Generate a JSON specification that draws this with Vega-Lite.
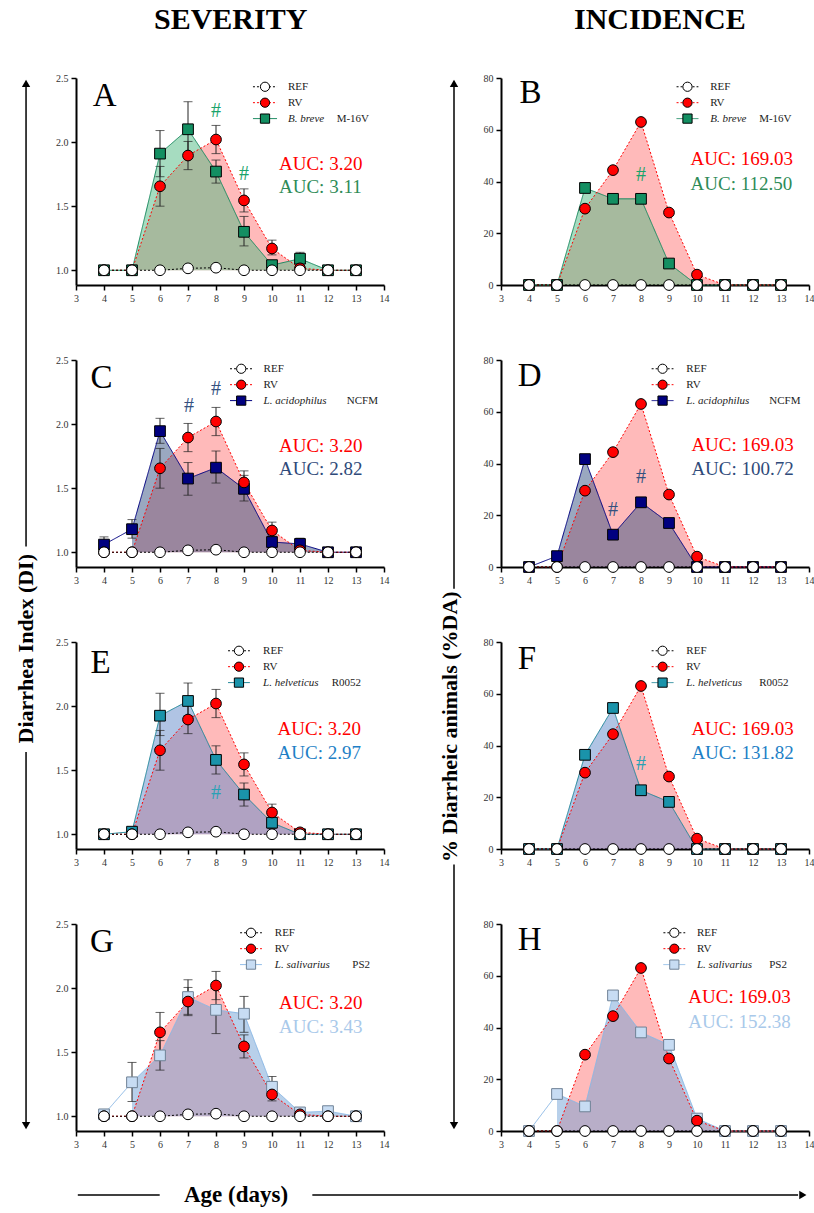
{
"$schema":"https://vega.github.io/schema/vega-lite/v6.json",
"background":"white",
"padding":{"left":15,"top":5,"right":0,"bottom":0},
"config":{"view":{"stroke":null},"axis":{"domainColor":"#000000","domainWidth":2,"tickColor":"#000000","tickWidth":1.5,"tickSize":5,"labelFont":"Liberation Serif","labelFontSize":10,"labelColor":"#333333","labelPadding":3,"labelOverlap":false,"grid":false},"text":{"font":"Liberation Serif"}},
"datasets":{
"m":[
{"p":"A","s":"B. breve M-16V","d":4,"v":1},
{"p":"A","s":"B. breve M-16V","d":5,"v":1},
{"p":"A","s":"B. breve M-16V","d":6,"v":1.91,"lo":1.73,"hi":2.09},
{"p":"A","s":"B. breve M-16V","d":7,"v":2.1,"lo":1.9,"hi":2.315},
{"p":"A","s":"B. breve M-16V","d":8,"v":1.77,"lo":1.68,"hi":1.86},
{"p":"A","s":"B. breve M-16V","d":9,"v":1.3,"lo":1.19,"hi":1.42},
{"p":"A","s":"B. breve M-16V","d":10,"v":1.04},
{"p":"A","s":"B. breve M-16V","d":11,"v":1.09,"lo":1.05,"hi":1.14},
{"p":"A","s":"B. breve M-16V","d":12,"v":1},
{"p":"A","s":"B. breve M-16V","d":13,"v":1},
{"p":"C","s":"L. acidophilus NCFM","d":4,"v":1.06,"lo":1.0,"hi":1.12},
{"p":"C","s":"L. acidophilus NCFM","d":5,"v":1.18,"lo":1.11,"hi":1.255},
{"p":"C","s":"L. acidophilus NCFM","d":6,"v":1.945,"lo":1.85,"hi":2.045},
{"p":"C","s":"L. acidophilus NCFM","d":7,"v":1.575,"lo":1.445,"hi":1.7},
{"p":"C","s":"L. acidophilus NCFM","d":8,"v":1.66,"lo":1.54,"hi":1.79},
{"p":"C","s":"L. acidophilus NCFM","d":9,"v":1.495,"lo":1.4,"hi":1.6},
{"p":"C","s":"L. acidophilus NCFM","d":10,"v":1.08,"lo":1.035,"hi":1.135},
{"p":"C","s":"L. acidophilus NCFM","d":11,"v":1.065,"lo":1.03,"hi":1.11},
{"p":"C","s":"L. acidophilus NCFM","d":12,"v":1},
{"p":"C","s":"L. acidophilus NCFM","d":13,"v":1},
{"p":"E","s":"L. helveticus R0052","d":4,"v":1},
{"p":"E","s":"L. helveticus R0052","d":5,"v":1.02},
{"p":"E","s":"L. helveticus R0052","d":6,"v":1.925,"lo":1.77,"hi":2.1},
{"p":"E","s":"L. helveticus R0052","d":7,"v":2.04,"lo":1.925,"hi":2.18},
{"p":"E","s":"L. helveticus R0052","d":8,"v":1.58,"lo":1.47,"hi":1.69},
{"p":"E","s":"L. helveticus R0052","d":9,"v":1.31,"lo":1.22,"hi":1.4},
{"p":"E","s":"L. helveticus R0052","d":10,"v":1.09,"lo":1.045,"hi":1.125},
{"p":"E","s":"L. helveticus R0052","d":11,"v":1},
{"p":"E","s":"L. helveticus R0052","d":12,"v":1},
{"p":"E","s":"L. helveticus R0052","d":13,"v":1},
{"p":"G","s":"L. salivarius PS2","d":4,"v":1.015},
{"p":"G","s":"L. salivarius PS2","d":5,"v":1.265,"lo":1.115,"hi":1.42},
{"p":"G","s":"L. salivarius PS2","d":6,"v":1.475,"lo":1.36,"hi":1.59},
{"p":"G","s":"L. salivarius PS2","d":7,"v":1.93,"lo":1.795,"hi":2.065},
{"p":"G","s":"L. salivarius PS2","d":8,"v":1.83,"lo":1.645,"hi":2.0},
{"p":"G","s":"L. salivarius PS2","d":9,"v":1.8,"lo":1.655,"hi":1.935},
{"p":"G","s":"L. salivarius PS2","d":10,"v":1.23,"lo":1.175,"hi":1.31},
{"p":"G","s":"L. salivarius PS2","d":11,"v":1.03},
{"p":"G","s":"L. salivarius PS2","d":12,"v":1.04},
{"p":"G","s":"L. salivarius PS2","d":13,"v":1},
{"p":"B","s":"B. breve M-16V","d":4,"v":0},
{"p":"B","s":"B. breve M-16V","d":5,"v":0},
{"p":"B","s":"B. breve M-16V","d":6,"v":37.5},
{"p":"B","s":"B. breve M-16V","d":7,"v":33.3},
{"p":"B","s":"B. breve M-16V","d":8,"v":33.3},
{"p":"B","s":"B. breve M-16V","d":9,"v":8.3},
{"p":"B","s":"B. breve M-16V","d":10,"v":0},
{"p":"B","s":"B. breve M-16V","d":11,"v":0},
{"p":"B","s":"B. breve M-16V","d":12,"v":0},
{"p":"B","s":"B. breve M-16V","d":13,"v":0},
{"p":"D","s":"L. acidophilus NCFM","d":4,"v":0},
{"p":"D","s":"L. acidophilus NCFM","d":5,"v":4.2},
{"p":"D","s":"L. acidophilus NCFM","d":6,"v":41.7},
{"p":"D","s":"L. acidophilus NCFM","d":7,"v":12.5},
{"p":"D","s":"L. acidophilus NCFM","d":8,"v":25},
{"p":"D","s":"L. acidophilus NCFM","d":9,"v":17},
{"p":"D","s":"L. acidophilus NCFM","d":10,"v":0},
{"p":"D","s":"L. acidophilus NCFM","d":11,"v":0},
{"p":"D","s":"L. acidophilus NCFM","d":12,"v":0},
{"p":"D","s":"L. acidophilus NCFM","d":13,"v":0},
{"p":"F","s":"L. helveticus R0052","d":4,"v":0},
{"p":"F","s":"L. helveticus R0052","d":5,"v":0},
{"p":"F","s":"L. helveticus R0052","d":6,"v":36.4},
{"p":"F","s":"L. helveticus R0052","d":7,"v":54.5},
{"p":"F","s":"L. helveticus R0052","d":8,"v":22.7},
{"p":"F","s":"L. helveticus R0052","d":9,"v":18.2},
{"p":"F","s":"L. helveticus R0052","d":10,"v":0},
{"p":"F","s":"L. helveticus R0052","d":11,"v":0},
{"p":"F","s":"L. helveticus R0052","d":12,"v":0},
{"p":"F","s":"L. helveticus R0052","d":13,"v":0},
{"p":"H","s":"L. salivarius PS2","d":4,"v":0},
{"p":"H","s":"L. salivarius PS2","d":5,"v":14.3},
{"p":"H","s":"L. salivarius PS2","d":6,"v":9.5},
{"p":"H","s":"L. salivarius PS2","d":7,"v":52.4},
{"p":"H","s":"L. salivarius PS2","d":8,"v":38.1},
{"p":"H","s":"L. salivarius PS2","d":9,"v":33.3},
{"p":"H","s":"L. salivarius PS2","d":10,"v":4.8},
{"p":"H","s":"L. salivarius PS2","d":11,"v":0},
{"p":"H","s":"L. salivarius PS2","d":12,"v":0},
{"p":"H","s":"L. salivarius PS2","d":13,"v":0},
{"p":"L","s":"RV","d":4,"v":1},
{"p":"L","s":"RV","d":5,"v":1},
{"p":"L","s":"RV","d":6,"v":1.655,"lo":1.5,"hi":1.81},
{"p":"L","s":"RV","d":7,"v":1.895,"lo":1.785,"hi":2.005},
{"p":"L","s":"RV","d":8,"v":2.02,"lo":1.91,"hi":2.13},
{"p":"L","s":"RV","d":9,"v":1.545,"lo":1.455,"hi":1.635},
{"p":"L","s":"RV","d":10,"v":1.17,"lo":1.12,"hi":1.235},
{"p":"L","s":"RV","d":11,"v":1.015},
{"p":"L","s":"RV","d":12,"v":1},
{"p":"L","s":"RV","d":13,"v":1},
{"p":"L","s":"REF","d":4,"v":1},
{"p":"L","s":"REF","d":5,"v":1},
{"p":"L","s":"REF","d":6,"v":1},
{"p":"L","s":"REF","d":7,"v":1.015},
{"p":"L","s":"REF","d":8,"v":1.02},
{"p":"L","s":"REF","d":9,"v":1},
{"p":"L","s":"REF","d":10,"v":1},
{"p":"L","s":"REF","d":11,"v":1},
{"p":"L","s":"REF","d":12,"v":1},
{"p":"L","s":"REF","d":13,"v":1},
{"p":"R","s":"RV","d":4,"v":0},
{"p":"R","s":"RV","d":5,"v":0},
{"p":"R","s":"RV","d":6,"v":29.5},
{"p":"R","s":"RV","d":7,"v":44.4},
{"p":"R","s":"RV","d":8,"v":63},
{"p":"R","s":"RV","d":9,"v":28},
{"p":"R","s":"RV","d":10,"v":4},
{"p":"R","s":"RV","d":11,"v":0},
{"p":"R","s":"RV","d":12,"v":0},
{"p":"R","s":"RV","d":13,"v":0},
{"p":"R","s":"REF","d":4,"v":0},
{"p":"R","s":"REF","d":5,"v":0},
{"p":"R","s":"REF","d":6,"v":0},
{"p":"R","s":"REF","d":7,"v":0},
{"p":"R","s":"REF","d":8,"v":0},
{"p":"R","s":"REF","d":9,"v":0},
{"p":"R","s":"REF","d":10,"v":0},
{"p":"R","s":"REF","d":11,"v":0},
{"p":"R","s":"REF","d":12,"v":0},
{"p":"R","s":"REF","d":13,"v":0}
],
"lg":[
{"p":"L","s":"REF","r":1,"t":"REF"},
{"p":"L","s":"RV","r":2,"t":"RV"},
{"p":"R","s":"REF","r":1,"t":"REF"},
{"p":"R","s":"RV","r":2,"t":"RV"},
{"p":"A","s":"B. breve M-16V","r":3,"t":"B. breve","st":"M-16V"},
{"p":"B","s":"B. breve M-16V","r":3,"t":"B. breve","st":"M-16V"},
{"p":"C","s":"L. acidophilus NCFM","r":3,"t":"L. acidophilus","st":"NCFM"},
{"p":"D","s":"L. acidophilus NCFM","r":3,"t":"L. acidophilus","st":"NCFM"},
{"p":"E","s":"L. helveticus R0052","r":3,"t":"L. helveticus","st":"R0052"},
{"p":"F","s":"L. helveticus R0052","r":3,"t":"L. helveticus","st":"R0052"},
{"p":"G","s":"L. salivarius PS2","r":3,"t":"L. salivarius","st":"PS2"},
{"p":"H","s":"L. salivarius PS2","r":3,"t":"L. salivarius","st":"PS2"}
]
},
"spacing":31,
"vconcat":[
{"spacing":17,"hconcat":[
{"width":23,"height":1053,"data":{"values":[{}]},
 "encoding":{"x":{"datum":0.48,"type":"quantitative","scale":{"domain":[0,1]},"axis":null}},
 "layer":[
  {"mark":{"type":"rule","strokeWidth":1.5,"color":"#000000"},"encoding":{"y":{"datum":0.006,"type":"quantitative","scale":{"domain":[0,1],"reverse":true},"axis":null},"y2":{"datum":0.445}}},
  {"mark":{"type":"rule","strokeWidth":1.5,"color":"#000000"},"encoding":{"y":{"datum":0.64,"type":"quantitative","scale":{"domain":[0,1],"reverse":true},"axis":null},"y2":{"datum":0.994}}},
  {"mark":{"type":"point","shape":"triangle-up","filled":true,"color":"#000000","opacity":1,"size":70},"encoding":{"y":{"datum":0.005,"type":"quantitative","scale":{"domain":[0,1],"reverse":true},"axis":null}}},
  {"mark":{"type":"point","shape":"triangle-down","filled":true,"color":"#000000","opacity":1,"size":70},"encoding":{"y":{"datum":0.995,"type":"quantitative","scale":{"domain":[0,1],"reverse":true},"axis":null}}},
  {"mark":{"type":"text","text":"Diarrhea Index (DI)","angle":270,"fontWeight":"bold","fontSize":22,"align":"center","baseline":"middle","color":"#000000"},"encoding":{"y":{"datum":0.542,"type":"quantitative","scale":{"domain":[0,1],"reverse":true},"axis":null}}}
 ]},
{"title":{"text":"SEVERITY","font":"Liberation Serif","fontSize":30,"fontWeight":"bold","anchor":"start","frame":"group","dx":78,"offset":38,"color":"#000000"},
 "spacing":75,"bounds":"flush",
 "vconcat":[
 {"width":308,"height":207,"resolve":{"scale":{"y":"independent"}},"layer":[
  {"data":{"name":"m"},"encoding":{"x":{"field":"d","type":"quantitative","scale":{"domain":[3,14],"nice":false,"zero":false},"axis":{"values":[3,4,5,6,7,8,9,10,11,12,13,14],"format":"d","title":null,"labelFlush":false,"labelOverlap":false}},"y":{"field":"v","type":"quantitative","scale":{"domain":[0.885,2.5],"nice":false,"zero":false},"axis":{"values":[1,1.5,2,2.5],"format":".1f","title":null,"labelOverlap":false}}},
   "layer":[
   {"transform":[{"filter":"datum.p=='L'&&datum.s=='RV'&&datum.d>=5"}],"mark":{"type":"area","color":"#ff0000","opacity":0.27},"encoding":{"y2":{"datum":1}}},
   {"transform":[{"filter":"datum.p=='A'&&datum.d>=5"}],"mark":{"type":"area","color":"#4db981","opacity":0.5},"encoding":{"y2":{"datum":1}}},
   {"transform":[{"filter":"(datum.p=='A'||datum.p=='L')&&isValid(datum.lo)"}],"mark":{"type":"errorbar","ticks":{"size":9},"color":"#222222"},"encoding":{"y":{"field":"lo","type":"quantitative","title":null},"y2":{"field":"hi"}}},
   {"transform":[{"filter":"datum.p=='A'||datum.p=='L'"}],"mark":{"type":"line","strokeWidth":1},"encoding":{"color":{"field":"s","type":"nominal","scale":{"domain":["REF","RV","B. breve M-16V","L. acidophilus NCFM","L. helveticus R0052","L. salivarius PS2"],"range":["#000000","#ff0000","#1a8a60","#000080","#1f8699","#8ab8e6"]},"legend":null},"strokeDash":{"field":"s","type":"nominal","scale":{"domain":["REF","RV","B. breve M-16V","L. acidophilus NCFM","L. helveticus R0052","L. salivarius PS2"],"range":[[2,2],[2,2],[1,0],[1,0],[1,0],[1,0]]},"legend":null}}},
   {"transform":[{"filter":"datum.p=='A'||datum.p=='L'"}],"mark":{"type":"point","filled":true,"opacity":1,"size":115,"strokeWidth":1},"encoding":{"shape":{"field":"s","type":"nominal","scale":{"domain":["REF","RV","B. breve M-16V","L. acidophilus NCFM","L. helveticus R0052","L. salivarius PS2"],"range":["circle","circle","square","square","square","square"]},"legend":null},"fill":{"field":"s","type":"nominal","scale":{"domain":["REF","RV","B. breve M-16V","L. acidophilus NCFM","L. helveticus R0052","L. salivarius PS2"],"range":["#ffffff","#ff0000","#138f62","#000080","#1a93aa","#c7dcf3"]},"legend":null},"stroke":{"condition":{"test":"datum.s=='L. salivarius PS2'","value":"#6f8296"},"value":"#000000"}}},
   {"transform":[{"filter":"datum.p=='L'&&datum.s=='REF'&&datum.d==4"}],"mark":{"type":"text","text":"A","fontSize":33,"align":"left","baseline":"alphabetic","color":"#000000"},"encoding":{"x":{"datum":3.6,"axis":{"values":[3,4,5,6,7,8,9,10,11,12,13,14],"format":"d","title":null,"labelFlush":false,"labelOverlap":false}},"y":{"datum":2.28}}},
   {"transform":[{"filter":"datum.p=='L'&&datum.s=='REF'&&datum.d==4"}],"mark":{"type":"text","text":"AUC: 3.20","fontSize":19,"align":"left","baseline":"middle","color":"#ff0000"},"encoding":{"x":{"datum":10.25,"axis":{"values":[3,4,5,6,7,8,9,10,11,12,13,14],"format":"d","title":null,"labelFlush":false,"labelOverlap":false}},"y":{"datum":1.83}}},
   {"transform":[{"filter":"datum.p=='L'&&datum.s=='REF'&&datum.d==4"}],"mark":{"type":"text","text":"AUC: 3.11","fontSize":19,"align":"left","baseline":"middle","color":"#2e8b57"},"encoding":{"x":{"datum":10.25,"axis":{"values":[3,4,5,6,7,8,9,10,11,12,13,14],"format":"d","title":null,"labelFlush":false,"labelOverlap":false}},"y":{"datum":1.65}}},
   {"transform":[{"filter":"datum.p=='L'&&datum.s=='REF'&&datum.d==4"}],"mark":{"type":"text","text":"#","fontSize":20,"baseline":"middle","color":"#1aa36b"},"encoding":{"x":{"datum":8,"axis":{"values":[3,4,5,6,7,8,9,10,11,12,13,14],"format":"d","title":null,"labelFlush":false,"labelOverlap":false}},"y":{"datum":2.24}}},
   {"transform":[{"filter":"datum.p=='L'&&datum.s=='REF'&&datum.d==4"}],"mark":{"type":"text","text":"#","fontSize":20,"baseline":"middle","color":"#1aa36b"},"encoding":{"x":{"datum":9,"axis":{"values":[3,4,5,6,7,8,9,10,11,12,13,14],"format":"d","title":null,"labelFlush":false,"labelOverlap":false}},"y":{"datum":1.75}}}
  ]},
  {"data":{"name":"lg"},"transform":[{"filter":"datum.p=='A'||datum.p=='L'"}],"encoding":{"y":{"field":"r","type":"quantitative","scale":{"domain":[0.45,13.45],"reverse":true,"nice":false,"zero":false},"axis":null}},"layer":[
   {"mark":{"type":"rule","strokeWidth":1},"encoding":{"x":{"datum":9.32,"axis":{"values":[3,4,5,6,7,8,9,10,11,12,13,14],"format":"d","title":null,"labelFlush":false,"labelOverlap":false}},"x2":{"datum":10.18},"color":{"field":"s","type":"nominal","legend":null},"strokeDash":{"field":"s","type":"nominal","legend":null}}},
   {"mark":{"type":"point","filled":true,"opacity":1,"size":85,"strokeWidth":1},"encoding":{"x":{"datum":9.75,"axis":{"values":[3,4,5,6,7,8,9,10,11,12,13,14],"format":"d","title":null,"labelFlush":false,"labelOverlap":false}},"shape":{"field":"s","type":"nominal","legend":null},"fill":{"field":"s","type":"nominal","legend":null},"stroke":{"condition":{"test":"datum.s=='L. salivarius PS2'","value":"#6f8296"},"value":"#000000"}}},
   {"transform":[{"filter":"datum.r<3"}],"mark":{"type":"text","align":"left","baseline":"middle","fontSize":11,"color":"#222222"},"encoding":{"x":{"datum":10.57,"axis":{"values":[3,4,5,6,7,8,9,10,11,12,13,14],"format":"d","title":null,"labelFlush":false,"labelOverlap":false}},"text":{"field":"t"}}},
   {"transform":[{"filter":"datum.r==3"}],"mark":{"type":"text","align":"left","baseline":"middle","fontSize":11,"fontStyle":"italic","color":"#222222"},"encoding":{"x":{"datum":10.57,"axis":{"values":[3,4,5,6,7,8,9,10,11,12,13,14],"format":"d","title":null,"labelFlush":false,"labelOverlap":false}},"text":{"field":"t"}}},
   {"transform":[{"filter":"datum.r==3"}],"mark":{"type":"text","align":"left","baseline":"middle","fontSize":11,"color":"#222222"},"encoding":{"x":{"datum":12.31,"axis":{"values":[3,4,5,6,7,8,9,10,11,12,13,14],"format":"d","title":null,"labelFlush":false,"labelOverlap":false}},"text":{"field":"st"}}}
  ]}
 ]},
 {"width":308,"height":207,"resolve":{"scale":{"y":"independent"}},"layer":[
  {"data":{"name":"m"},"encoding":{"x":{"field":"d","type":"quantitative","scale":{"domain":[3,14],"nice":false,"zero":false},"axis":{"values":[3,4,5,6,7,8,9,10,11,12,13,14],"format":"d","title":null,"labelFlush":false,"labelOverlap":false}},"y":{"field":"v","type":"quantitative","scale":{"domain":[0.885,2.5],"nice":false,"zero":false},"axis":{"values":[1,1.5,2,2.5],"format":".1f","title":null,"labelOverlap":false}}},
   "layer":[
   {"transform":[{"filter":"datum.p=='L'&&datum.s=='RV'&&datum.d>=5"}],"mark":{"type":"area","color":"#ff0000","opacity":0.27},"encoding":{"y2":{"datum":1}}},
   {"transform":[{"filter":"datum.p=='C'&&datum.d>=5"}],"mark":{"type":"area","color":"#355181","opacity":0.5},"encoding":{"y2":{"datum":1}}},
   {"transform":[{"filter":"(datum.p=='C'||datum.p=='L')&&isValid(datum.lo)"}],"mark":{"type":"errorbar","ticks":{"size":9},"color":"#222222"},"encoding":{"y":{"field":"lo","type":"quantitative","title":null},"y2":{"field":"hi"}}},
   {"transform":[{"filter":"datum.p=='C'||datum.p=='L'"}],"mark":{"type":"line","strokeWidth":1},"encoding":{"color":{"field":"s","type":"nominal","legend":null},"strokeDash":{"field":"s","type":"nominal","legend":null}}},
   {"transform":[{"filter":"datum.p=='C'||datum.p=='L'"}],"mark":{"type":"point","filled":true,"opacity":1,"size":115,"strokeWidth":1},"encoding":{"shape":{"field":"s","type":"nominal","legend":null},"fill":{"field":"s","type":"nominal","legend":null},"stroke":{"condition":{"test":"datum.s=='L. salivarius PS2'","value":"#6f8296"},"value":"#000000"}}},
   {"transform":[{"filter":"datum.p=='L'&&datum.s=='REF'&&datum.d==4"}],"mark":{"type":"text","text":"C","fontSize":33,"align":"left","baseline":"alphabetic","color":"#000000"},"encoding":{"x":{"datum":3.52,"axis":{"values":[3,4,5,6,7,8,9,10,11,12,13,14],"format":"d","title":null,"labelFlush":false,"labelOverlap":false}},"y":{"datum":2.28}}},
   {"transform":[{"filter":"datum.p=='L'&&datum.s=='REF'&&datum.d==4"}],"mark":{"type":"text","text":"AUC: 3.20","fontSize":19,"align":"left","baseline":"middle","color":"#ff0000"},"encoding":{"x":{"datum":10.25,"axis":{"values":[3,4,5,6,7,8,9,10,11,12,13,14],"format":"d","title":null,"labelFlush":false,"labelOverlap":false}},"y":{"datum":1.83}}},
   {"transform":[{"filter":"datum.p=='L'&&datum.s=='REF'&&datum.d==4"}],"mark":{"type":"text","text":"AUC: 2.82","fontSize":19,"align":"left","baseline":"middle","color":"#2f4a7a"},"encoding":{"x":{"datum":10.25,"axis":{"values":[3,4,5,6,7,8,9,10,11,12,13,14],"format":"d","title":null,"labelFlush":false,"labelOverlap":false}},"y":{"datum":1.65}}},
   {"transform":[{"filter":"datum.p=='L'&&datum.s=='REF'&&datum.d==4"}],"mark":{"type":"text","text":"#","fontSize":20,"baseline":"middle","color":"#34507f"},"encoding":{"x":{"datum":7.04,"axis":{"values":[3,4,5,6,7,8,9,10,11,12,13,14],"format":"d","title":null,"labelFlush":false,"labelOverlap":false}},"y":{"datum":2.14}}},
   {"transform":[{"filter":"datum.p=='L'&&datum.s=='REF'&&datum.d==4"}],"mark":{"type":"text","text":"#","fontSize":20,"baseline":"middle","color":"#34507f"},"encoding":{"x":{"datum":8,"axis":{"values":[3,4,5,6,7,8,9,10,11,12,13,14],"format":"d","title":null,"labelFlush":false,"labelOverlap":false}},"y":{"datum":2.27}}}
  ]},
  {"data":{"name":"lg"},"transform":[{"filter":"datum.p=='C'||datum.p=='L'"}],"encoding":{"y":{"field":"r","type":"quantitative","scale":{"domain":[0.45,13.45],"reverse":true,"nice":false,"zero":false},"axis":null}},"layer":[
   {"mark":{"type":"rule","strokeWidth":1},"encoding":{"x":{"datum":8.5,"axis":{"values":[3,4,5,6,7,8,9,10,11,12,13,14],"format":"d","title":null,"labelFlush":false,"labelOverlap":false}},"x2":{"datum":9.29},"color":{"field":"s","type":"nominal","legend":null},"strokeDash":{"field":"s","type":"nominal","legend":null}}},
   {"mark":{"type":"point","filled":true,"opacity":1,"size":85,"strokeWidth":1},"encoding":{"x":{"datum":8.9,"axis":{"values":[3,4,5,6,7,8,9,10,11,12,13,14],"format":"d","title":null,"labelFlush":false,"labelOverlap":false}},"shape":{"field":"s","type":"nominal","legend":null},"fill":{"field":"s","type":"nominal","legend":null},"stroke":{"condition":{"test":"datum.s=='L. salivarius PS2'","value":"#6f8296"},"value":"#000000"}}},
   {"transform":[{"filter":"datum.r<3"}],"mark":{"type":"text","align":"left","baseline":"middle","fontSize":11,"color":"#222222"},"encoding":{"x":{"datum":9.7,"axis":{"values":[3,4,5,6,7,8,9,10,11,12,13,14],"format":"d","title":null,"labelFlush":false,"labelOverlap":false}},"text":{"field":"t"}}},
   {"transform":[{"filter":"datum.r==3"}],"mark":{"type":"text","align":"left","baseline":"middle","fontSize":11,"fontStyle":"italic","color":"#222222"},"encoding":{"x":{"datum":9.7,"axis":{"values":[3,4,5,6,7,8,9,10,11,12,13,14],"format":"d","title":null,"labelFlush":false,"labelOverlap":false}},"text":{"field":"t"}}},
   {"transform":[{"filter":"datum.r==3"}],"mark":{"type":"text","align":"left","baseline":"middle","fontSize":11,"color":"#222222"},"encoding":{"x":{"datum":12.67,"axis":{"values":[3,4,5,6,7,8,9,10,11,12,13,14],"format":"d","title":null,"labelFlush":false,"labelOverlap":false}},"text":{"field":"st"}}}
  ]}
 ]},
 {"width":308,"height":207,"resolve":{"scale":{"y":"independent"}},"layer":[
  {"data":{"name":"m"},"encoding":{"x":{"field":"d","type":"quantitative","scale":{"domain":[3,14],"nice":false,"zero":false},"axis":{"values":[3,4,5,6,7,8,9,10,11,12,13,14],"format":"d","title":null,"labelFlush":false,"labelOverlap":false}},"y":{"field":"v","type":"quantitative","scale":{"domain":[0.885,2.5],"nice":false,"zero":false},"axis":{"values":[1,1.5,2,2.5],"format":".1f","title":null,"labelOverlap":false}}},
   "layer":[
   {"transform":[{"filter":"datum.p=='L'&&datum.s=='RV'&&datum.d>=5"}],"mark":{"type":"area","color":"#ff0000","opacity":0.27},"encoding":{"y2":{"datum":1}}},
   {"transform":[{"filter":"datum.p=='E'&&datum.d>=5"}],"mark":{"type":"area","color":"#6189c9","opacity":0.5},"encoding":{"y2":{"datum":1}}},
   {"transform":[{"filter":"(datum.p=='E'||datum.p=='L')&&isValid(datum.lo)"}],"mark":{"type":"errorbar","ticks":{"size":9},"color":"#222222"},"encoding":{"y":{"field":"lo","type":"quantitative","title":null},"y2":{"field":"hi"}}},
   {"transform":[{"filter":"datum.p=='E'||datum.p=='L'"}],"mark":{"type":"line","strokeWidth":1},"encoding":{"color":{"field":"s","type":"nominal","legend":null},"strokeDash":{"field":"s","type":"nominal","legend":null}}},
   {"transform":[{"filter":"datum.p=='E'||datum.p=='L'"}],"mark":{"type":"point","filled":true,"opacity":1,"size":115,"strokeWidth":1},"encoding":{"shape":{"field":"s","type":"nominal","legend":null},"fill":{"field":"s","type":"nominal","legend":null},"stroke":{"condition":{"test":"datum.s=='L. salivarius PS2'","value":"#6f8296"},"value":"#000000"}}},
   {"transform":[{"filter":"datum.p=='L'&&datum.s=='REF'&&datum.d==4"}],"mark":{"type":"text","text":"E","fontSize":33,"align":"left","baseline":"alphabetic","color":"#000000"},"encoding":{"x":{"datum":3.52,"axis":{"values":[3,4,5,6,7,8,9,10,11,12,13,14],"format":"d","title":null,"labelFlush":false,"labelOverlap":false}},"y":{"datum":2.26}}},
   {"transform":[{"filter":"datum.p=='L'&&datum.s=='REF'&&datum.d==4"}],"mark":{"type":"text","text":"AUC: 3.20","fontSize":19,"align":"left","baseline":"middle","color":"#ff0000"},"encoding":{"x":{"datum":10.2,"axis":{"values":[3,4,5,6,7,8,9,10,11,12,13,14],"format":"d","title":null,"labelFlush":false,"labelOverlap":false}},"y":{"datum":1.82}}},
   {"transform":[{"filter":"datum.p=='L'&&datum.s=='REF'&&datum.d==4"}],"mark":{"type":"text","text":"AUC: 2.97","fontSize":19,"align":"left","baseline":"middle","color":"#1e7fc6"},"encoding":{"x":{"datum":10.2,"axis":{"values":[3,4,5,6,7,8,9,10,11,12,13,14],"format":"d","title":null,"labelFlush":false,"labelOverlap":false}},"y":{"datum":1.635}}},
   {"transform":[{"filter":"datum.p=='L'&&datum.s=='REF'&&datum.d==4"}],"mark":{"type":"text","text":"#","fontSize":20,"baseline":"middle","color":"#2aa1b5"},"encoding":{"x":{"datum":8,"axis":{"values":[3,4,5,6,7,8,9,10,11,12,13,14],"format":"d","title":null,"labelFlush":false,"labelOverlap":false}},"y":{"datum":1.32}}}
  ]},
  {"data":{"name":"lg"},"transform":[{"filter":"datum.p=='E'||datum.p=='L'"}],"encoding":{"y":{"field":"r","type":"quantitative","scale":{"domain":[0.45,13.45],"reverse":true,"nice":false,"zero":false},"axis":null}},"layer":[
   {"mark":{"type":"rule","strokeWidth":1},"encoding":{"x":{"datum":8.43,"axis":{"values":[3,4,5,6,7,8,9,10,11,12,13,14],"format":"d","title":null,"labelFlush":false,"labelOverlap":false}},"x2":{"datum":9.21},"color":{"field":"s","type":"nominal","legend":null},"strokeDash":{"field":"s","type":"nominal","legend":null}}},
   {"mark":{"type":"point","filled":true,"opacity":1,"size":85,"strokeWidth":1},"encoding":{"x":{"datum":8.82,"axis":{"values":[3,4,5,6,7,8,9,10,11,12,13,14],"format":"d","title":null,"labelFlush":false,"labelOverlap":false}},"shape":{"field":"s","type":"nominal","legend":null},"fill":{"field":"s","type":"nominal","legend":null},"stroke":{"condition":{"test":"datum.s=='L. salivarius PS2'","value":"#6f8296"},"value":"#000000"}}},
   {"transform":[{"filter":"datum.r<3"}],"mark":{"type":"text","align":"left","baseline":"middle","fontSize":11,"color":"#222222"},"encoding":{"x":{"datum":9.68,"axis":{"values":[3,4,5,6,7,8,9,10,11,12,13,14],"format":"d","title":null,"labelFlush":false,"labelOverlap":false}},"text":{"field":"t"}}},
   {"transform":[{"filter":"datum.r==3"}],"mark":{"type":"text","align":"left","baseline":"middle","fontSize":11,"fontStyle":"italic","color":"#222222"},"encoding":{"x":{"datum":9.68,"axis":{"values":[3,4,5,6,7,8,9,10,11,12,13,14],"format":"d","title":null,"labelFlush":false,"labelOverlap":false}},"text":{"field":"t"}}},
   {"transform":[{"filter":"datum.r==3"}],"mark":{"type":"text","align":"left","baseline":"middle","fontSize":11,"color":"#222222"},"encoding":{"x":{"datum":12.13,"axis":{"values":[3,4,5,6,7,8,9,10,11,12,13,14],"format":"d","title":null,"labelFlush":false,"labelOverlap":false}},"text":{"field":"st"}}}
  ]}
 ]},
 {"width":308,"height":207,"resolve":{"scale":{"y":"independent"}},"layer":[
  {"data":{"name":"m"},"encoding":{"x":{"field":"d","type":"quantitative","scale":{"domain":[3,14],"nice":false,"zero":false},"axis":{"values":[3,4,5,6,7,8,9,10,11,12,13,14],"format":"d","title":null,"labelFlush":false,"labelOverlap":false}},"y":{"field":"v","type":"quantitative","scale":{"domain":[0.885,2.5],"nice":false,"zero":false},"axis":{"values":[1,1.5,2,2.5],"format":".1f","title":null,"labelOverlap":false}}},
   "layer":[
   {"transform":[{"filter":"datum.p=='L'&&datum.s=='RV'&&datum.d>=5"}],"mark":{"type":"area","color":"#ff0000","opacity":0.27},"encoding":{"y2":{"datum":1}}},
   {"transform":[{"filter":"datum.p=='G'&&datum.d>=5"}],"mark":{"type":"area","color":"#71a1d5","opacity":0.5},"encoding":{"y2":{"datum":1}}},
   {"transform":[{"filter":"(datum.p=='G'||datum.p=='L')&&isValid(datum.lo)"}],"mark":{"type":"errorbar","ticks":{"size":9},"color":"#222222"},"encoding":{"y":{"field":"lo","type":"quantitative","title":null},"y2":{"field":"hi"}}},
   {"transform":[{"filter":"datum.p=='G'||datum.p=='L'"}],"mark":{"type":"line","strokeWidth":1},"encoding":{"color":{"field":"s","type":"nominal","legend":null},"strokeDash":{"field":"s","type":"nominal","legend":null}}},
   {"transform":[{"filter":"datum.p=='G'||datum.p=='L'"}],"mark":{"type":"point","filled":true,"opacity":1,"size":115,"strokeWidth":1},"encoding":{"shape":{"field":"s","type":"nominal","legend":null},"fill":{"field":"s","type":"nominal","legend":null},"stroke":{"condition":{"test":"datum.s=='L. salivarius PS2'","value":"#6f8296"},"value":"#000000"}}},
   {"transform":[{"filter":"datum.p=='L'&&datum.s=='REF'&&datum.d==4"}],"mark":{"type":"text","text":"G","fontSize":33,"align":"left","baseline":"alphabetic","color":"#000000"},"encoding":{"x":{"datum":3.5,"axis":{"values":[3,4,5,6,7,8,9,10,11,12,13,14],"format":"d","title":null,"labelFlush":false,"labelOverlap":false}},"y":{"datum":2.28}}},
   {"transform":[{"filter":"datum.p=='L'&&datum.s=='REF'&&datum.d==4"}],"mark":{"type":"text","text":"AUC: 3.20","fontSize":19,"align":"left","baseline":"middle","color":"#ff0000"},"encoding":{"x":{"datum":10.25,"axis":{"values":[3,4,5,6,7,8,9,10,11,12,13,14],"format":"d","title":null,"labelFlush":false,"labelOverlap":false}},"y":{"datum":1.88}}},
   {"transform":[{"filter":"datum.p=='L'&&datum.s=='REF'&&datum.d==4"}],"mark":{"type":"text","text":"AUC: 3.43","fontSize":19,"align":"left","baseline":"middle","color":"#a9c9ea"},"encoding":{"x":{"datum":10.25,"axis":{"values":[3,4,5,6,7,8,9,10,11,12,13,14],"format":"d","title":null,"labelFlush":false,"labelOverlap":false}},"y":{"datum":1.7}}}
  ]},
  {"data":{"name":"lg"},"transform":[{"filter":"datum.p=='G'||datum.p=='L'"}],"encoding":{"y":{"field":"r","type":"quantitative","scale":{"domain":[0.45,13.45],"reverse":true,"nice":false,"zero":false},"axis":null}},"layer":[
   {"mark":{"type":"rule","strokeWidth":1},"encoding":{"x":{"datum":8.86,"axis":{"values":[3,4,5,6,7,8,9,10,11,12,13,14],"format":"d","title":null,"labelFlush":false,"labelOverlap":false}},"x2":{"datum":9.64},"color":{"field":"s","type":"nominal","legend":null},"strokeDash":{"field":"s","type":"nominal","legend":null}}},
   {"mark":{"type":"point","filled":true,"opacity":1,"size":85,"strokeWidth":1},"encoding":{"x":{"datum":9.25,"axis":{"values":[3,4,5,6,7,8,9,10,11,12,13,14],"format":"d","title":null,"labelFlush":false,"labelOverlap":false}},"shape":{"field":"s","type":"nominal","legend":null},"fill":{"field":"s","type":"nominal","legend":null},"stroke":{"condition":{"test":"datum.s=='L. salivarius PS2'","value":"#6f8296"},"value":"#000000"}}},
   {"transform":[{"filter":"datum.r<3"}],"mark":{"type":"text","align":"left","baseline":"middle","fontSize":11,"color":"#222222"},"encoding":{"x":{"datum":10.1,"axis":{"values":[3,4,5,6,7,8,9,10,11,12,13,14],"format":"d","title":null,"labelFlush":false,"labelOverlap":false}},"text":{"field":"t"}}},
   {"transform":[{"filter":"datum.r==3"}],"mark":{"type":"text","align":"left","baseline":"middle","fontSize":11,"fontStyle":"italic","color":"#222222"},"encoding":{"x":{"datum":10.1,"axis":{"values":[3,4,5,6,7,8,9,10,11,12,13,14],"format":"d","title":null,"labelFlush":false,"labelOverlap":false}},"text":{"field":"t"}}},
   {"transform":[{"filter":"datum.r==3"}],"mark":{"type":"text","align":"left","baseline":"middle","fontSize":11,"color":"#222222"},"encoding":{"x":{"datum":12.87,"axis":{"values":[3,4,5,6,7,8,9,10,11,12,13,14],"format":"d","title":null,"labelFlush":false,"labelOverlap":false}},"text":{"field":"st"}}}
  ]}
 ]}
 ]},
{"width":60,"height":1053,"data":{"values":[{}]},
 "encoding":{"x":{"datum":0.8,"type":"quantitative","scale":{"domain":[0,1]},"axis":null}},
 "layer":[
  {"mark":{"type":"rule","strokeWidth":1.5,"color":"#000000"},"encoding":{"y":{"datum":0.006,"type":"quantitative","scale":{"domain":[0,1],"reverse":true},"axis":null},"y2":{"datum":0.485}}},
  {"mark":{"type":"rule","strokeWidth":1.5,"color":"#000000"},"encoding":{"y":{"datum":0.747,"type":"quantitative","scale":{"domain":[0,1],"reverse":true},"axis":null},"y2":{"datum":0.994}}},
  {"mark":{"type":"point","shape":"triangle-up","filled":true,"color":"#000000","opacity":1,"size":70},"encoding":{"y":{"datum":0.005,"type":"quantitative","scale":{"domain":[0,1],"reverse":true},"axis":null}}},
  {"mark":{"type":"point","shape":"triangle-down","filled":true,"color":"#000000","opacity":1,"size":70},"encoding":{"y":{"datum":0.995,"type":"quantitative","scale":{"domain":[0,1],"reverse":true},"axis":null}}},
  {"mark":{"type":"text","text":"% Diarrheic animals (%DA)","angle":270,"fontWeight":"bold","fontSize":22,"align":"center","baseline":"middle","color":"#000000"},"encoding":{"x":{"datum":0.733,"type":"quantitative","scale":{"domain":[0,1]},"axis":null},"y":{"datum":0.616,"type":"quantitative","scale":{"domain":[0,1],"reverse":true},"axis":null}}}
 ]},
{"title":{"text":"INCIDENCE","font":"Liberation Serif","fontSize":30,"fontWeight":"bold","anchor":"start","frame":"group","dx":73,"offset":38,"color":"#000000"},
 "spacing":75,"bounds":"flush",
 "vconcat":[
 {"width":308,"height":207,"resolve":{"scale":{"y":"independent"}},"layer":[
  {"data":{"name":"m"},"encoding":{"x":{"field":"d","type":"quantitative","scale":{"domain":[3,14],"nice":false,"zero":false},"axis":{"values":[3,4,5,6,7,8,9,10,11,12,13,14],"format":"d","title":null,"labelFlush":false,"labelOverlap":false}},"y":{"field":"v","type":"quantitative","scale":{"domain":[0,80],"nice":false},"axis":{"values":[0,20,40,60,80],"format":"d","title":null,"labelOverlap":false}}},
   "layer":[
   {"transform":[{"filter":"datum.p=='R'&&datum.s=='RV'&&datum.d>=5"}],"mark":{"type":"area","color":"#ff0000","opacity":0.27},"encoding":{"y2":{"datum":0}}},
   {"transform":[{"filter":"datum.p=='B'&&datum.d>=5"}],"mark":{"type":"area","color":"#4db981","opacity":0.5},"encoding":{"y2":{"datum":0}}},
   {"transform":[{"filter":"datum.p=='B'||datum.p=='R'"}],"mark":{"type":"line","strokeWidth":1},"encoding":{"color":{"field":"s","type":"nominal","legend":null},"strokeDash":{"field":"s","type":"nominal","legend":null}}},
   {"transform":[{"filter":"datum.p=='B'||datum.p=='R'"}],"mark":{"type":"point","filled":true,"opacity":1,"size":115,"strokeWidth":1},"encoding":{"shape":{"field":"s","type":"nominal","legend":null},"fill":{"field":"s","type":"nominal","legend":null},"stroke":{"condition":{"test":"datum.s=='L. salivarius PS2'","value":"#6f8296"},"value":"#000000"}}},
   {"transform":[{"filter":"datum.p=='R'&&datum.s=='REF'&&datum.d==4"}],"mark":{"type":"text","text":"B","fontSize":33,"align":"left","baseline":"alphabetic","color":"#000000"},"encoding":{"x":{"datum":3.66,"axis":{"values":[3,4,5,6,7,8,9,10,11,12,13,14],"format":"d","title":null,"labelFlush":false,"labelOverlap":false}},"y":{"datum":70.5}}},
   {"transform":[{"filter":"datum.p=='R'&&datum.s=='REF'&&datum.d==4"}],"mark":{"type":"text","text":"AUC: 169.03","fontSize":19,"align":"left","baseline":"middle","color":"#ff0000"},"encoding":{"x":{"datum":9.77,"axis":{"values":[3,4,5,6,7,8,9,10,11,12,13,14],"format":"d","title":null,"labelFlush":false,"labelOverlap":false}},"y":{"datum":48.6}}},
   {"transform":[{"filter":"datum.p=='R'&&datum.s=='REF'&&datum.d==4"}],"mark":{"type":"text","text":"AUC: 112.50","fontSize":19,"align":"left","baseline":"middle","color":"#2e8b57"},"encoding":{"x":{"datum":9.77,"axis":{"values":[3,4,5,6,7,8,9,10,11,12,13,14],"format":"d","title":null,"labelFlush":false,"labelOverlap":false}},"y":{"datum":39}}},
   {"transform":[{"filter":"datum.p=='R'&&datum.s=='REF'&&datum.d==4"}],"mark":{"type":"text","text":"#","fontSize":20,"baseline":"middle","color":"#1aa36b"},"encoding":{"x":{"datum":8,"axis":{"values":[3,4,5,6,7,8,9,10,11,12,13,14],"format":"d","title":null,"labelFlush":false,"labelOverlap":false}},"y":{"datum":42.5}}}
  ]},
  {"data":{"name":"lg"},"transform":[{"filter":"datum.p=='B'||datum.p=='R'"}],"encoding":{"y":{"field":"r","type":"quantitative","scale":{"domain":[0.45,13.45],"reverse":true,"nice":false,"zero":false},"axis":null}},"layer":[
   {"mark":{"type":"rule","strokeWidth":1},"encoding":{"x":{"datum":9.27,"axis":{"values":[3,4,5,6,7,8,9,10,11,12,13,14],"format":"d","title":null,"labelFlush":false,"labelOverlap":false}},"x2":{"datum":10.05},"color":{"field":"s","type":"nominal","legend":null},"strokeDash":{"field":"s","type":"nominal","legend":null}}},
   {"mark":{"type":"point","filled":true,"opacity":1,"size":85,"strokeWidth":1},"encoding":{"x":{"datum":9.66,"axis":{"values":[3,4,5,6,7,8,9,10,11,12,13,14],"format":"d","title":null,"labelFlush":false,"labelOverlap":false}},"shape":{"field":"s","type":"nominal","legend":null},"fill":{"field":"s","type":"nominal","legend":null},"stroke":{"condition":{"test":"datum.s=='L. salivarius PS2'","value":"#6f8296"},"value":"#000000"}}},
   {"transform":[{"filter":"datum.r<3"}],"mark":{"type":"text","align":"left","baseline":"middle","fontSize":11,"color":"#222222"},"encoding":{"x":{"datum":10.47,"axis":{"values":[3,4,5,6,7,8,9,10,11,12,13,14],"format":"d","title":null,"labelFlush":false,"labelOverlap":false}},"text":{"field":"t"}}},
   {"transform":[{"filter":"datum.r==3"}],"mark":{"type":"text","align":"left","baseline":"middle","fontSize":11,"fontStyle":"italic","color":"#222222"},"encoding":{"x":{"datum":10.47,"axis":{"values":[3,4,5,6,7,8,9,10,11,12,13,14],"format":"d","title":null,"labelFlush":false,"labelOverlap":false}},"text":{"field":"t"}}},
   {"transform":[{"filter":"datum.r==3"}],"mark":{"type":"text","align":"left","baseline":"middle","fontSize":11,"color":"#222222"},"encoding":{"x":{"datum":12.22,"axis":{"values":[3,4,5,6,7,8,9,10,11,12,13,14],"format":"d","title":null,"labelFlush":false,"labelOverlap":false}},"text":{"field":"st"}}}
  ]}
 ]},
 {"width":308,"height":207,"resolve":{"scale":{"y":"independent"}},"layer":[
  {"data":{"name":"m"},"encoding":{"x":{"field":"d","type":"quantitative","scale":{"domain":[3,14],"nice":false,"zero":false},"axis":{"values":[3,4,5,6,7,8,9,10,11,12,13,14],"format":"d","title":null,"labelFlush":false,"labelOverlap":false}},"y":{"field":"v","type":"quantitative","scale":{"domain":[0,80],"nice":false},"axis":{"values":[0,20,40,60,80],"format":"d","title":null,"labelOverlap":false}}},
   "layer":[
   {"transform":[{"filter":"datum.p=='R'&&datum.s=='RV'&&datum.d>=5"}],"mark":{"type":"area","color":"#ff0000","opacity":0.27},"encoding":{"y2":{"datum":0}}},
   {"transform":[{"filter":"datum.p=='D'&&datum.d>=5"}],"mark":{"type":"area","color":"#355181","opacity":0.5},"encoding":{"y2":{"datum":0}}},
   {"transform":[{"filter":"datum.p=='D'||datum.p=='R'"}],"mark":{"type":"line","strokeWidth":1},"encoding":{"color":{"field":"s","type":"nominal","legend":null},"strokeDash":{"field":"s","type":"nominal","legend":null}}},
   {"transform":[{"filter":"datum.p=='D'||datum.p=='R'"}],"mark":{"type":"point","filled":true,"opacity":1,"size":115,"strokeWidth":1},"encoding":{"shape":{"field":"s","type":"nominal","legend":null},"fill":{"field":"s","type":"nominal","legend":null},"stroke":{"condition":{"test":"datum.s=='L. salivarius PS2'","value":"#6f8296"},"value":"#000000"}}},
   {"transform":[{"filter":"datum.p=='R'&&datum.s=='REF'&&datum.d==4"}],"mark":{"type":"text","text":"D","fontSize":33,"align":"left","baseline":"alphabetic","color":"#000000"},"encoding":{"x":{"datum":3.6,"axis":{"values":[3,4,5,6,7,8,9,10,11,12,13,14],"format":"d","title":null,"labelFlush":false,"labelOverlap":false}},"y":{"datum":70}}},
   {"transform":[{"filter":"datum.p=='R'&&datum.s=='REF'&&datum.d==4"}],"mark":{"type":"text","text":"AUC: 169.03","fontSize":19,"align":"left","baseline":"middle","color":"#ff0000"},"encoding":{"x":{"datum":9.8,"axis":{"values":[3,4,5,6,7,8,9,10,11,12,13,14],"format":"d","title":null,"labelFlush":false,"labelOverlap":false}},"y":{"datum":47}}},
   {"transform":[{"filter":"datum.p=='R'&&datum.s=='REF'&&datum.d==4"}],"mark":{"type":"text","text":"AUC: 100.72","fontSize":19,"align":"left","baseline":"middle","color":"#2f4a7a"},"encoding":{"x":{"datum":9.8,"axis":{"values":[3,4,5,6,7,8,9,10,11,12,13,14],"format":"d","title":null,"labelFlush":false,"labelOverlap":false}},"y":{"datum":38}}},
   {"transform":[{"filter":"datum.p=='R'&&datum.s=='REF'&&datum.d==4"}],"mark":{"type":"text","text":"#","fontSize":20,"baseline":"middle","color":"#34507f"},"encoding":{"x":{"datum":7,"axis":{"values":[3,4,5,6,7,8,9,10,11,12,13,14],"format":"d","title":null,"labelFlush":false,"labelOverlap":false}},"y":{"datum":21.9}}},
   {"transform":[{"filter":"datum.p=='R'&&datum.s=='REF'&&datum.d==4"}],"mark":{"type":"text","text":"#","fontSize":20,"baseline":"middle","color":"#34507f"},"encoding":{"x":{"datum":8,"axis":{"values":[3,4,5,6,7,8,9,10,11,12,13,14],"format":"d","title":null,"labelFlush":false,"labelOverlap":false}},"y":{"datum":34.8}}}
  ]},
  {"data":{"name":"lg"},"transform":[{"filter":"datum.p=='D'||datum.p=='R'"}],"encoding":{"y":{"field":"r","type":"quantitative","scale":{"domain":[0.45,13.45],"reverse":true,"nice":false,"zero":false},"axis":null}},"layer":[
   {"mark":{"type":"rule","strokeWidth":1},"encoding":{"x":{"datum":8.38,"axis":{"values":[3,4,5,6,7,8,9,10,11,12,13,14],"format":"d","title":null,"labelFlush":false,"labelOverlap":false}},"x2":{"datum":9.16},"color":{"field":"s","type":"nominal","legend":null},"strokeDash":{"field":"s","type":"nominal","legend":null}}},
   {"mark":{"type":"point","filled":true,"opacity":1,"size":85,"strokeWidth":1},"encoding":{"x":{"datum":8.77,"axis":{"values":[3,4,5,6,7,8,9,10,11,12,13,14],"format":"d","title":null,"labelFlush":false,"labelOverlap":false}},"shape":{"field":"s","type":"nominal","legend":null},"fill":{"field":"s","type":"nominal","legend":null},"stroke":{"condition":{"test":"datum.s=='L. salivarius PS2'","value":"#6f8296"},"value":"#000000"}}},
   {"transform":[{"filter":"datum.r<3"}],"mark":{"type":"text","align":"left","baseline":"middle","fontSize":11,"color":"#222222"},"encoding":{"x":{"datum":9.62,"axis":{"values":[3,4,5,6,7,8,9,10,11,12,13,14],"format":"d","title":null,"labelFlush":false,"labelOverlap":false}},"text":{"field":"t"}}},
   {"transform":[{"filter":"datum.r==3"}],"mark":{"type":"text","align":"left","baseline":"middle","fontSize":11,"fontStyle":"italic","color":"#222222"},"encoding":{"x":{"datum":9.62,"axis":{"values":[3,4,5,6,7,8,9,10,11,12,13,14],"format":"d","title":null,"labelFlush":false,"labelOverlap":false}},"text":{"field":"t"}}},
   {"transform":[{"filter":"datum.r==3"}],"mark":{"type":"text","align":"left","baseline":"middle","fontSize":11,"color":"#222222"},"encoding":{"x":{"datum":12.58,"axis":{"values":[3,4,5,6,7,8,9,10,11,12,13,14],"format":"d","title":null,"labelFlush":false,"labelOverlap":false}},"text":{"field":"st"}}}
  ]}
 ]},
 {"width":308,"height":207,"resolve":{"scale":{"y":"independent"}},"layer":[
  {"data":{"name":"m"},"encoding":{"x":{"field":"d","type":"quantitative","scale":{"domain":[3,14],"nice":false,"zero":false},"axis":{"values":[3,4,5,6,7,8,9,10,11,12,13,14],"format":"d","title":null,"labelFlush":false,"labelOverlap":false}},"y":{"field":"v","type":"quantitative","scale":{"domain":[0,80],"nice":false},"axis":{"values":[0,20,40,60,80],"format":"d","title":null,"labelOverlap":false}}},
   "layer":[
   {"transform":[{"filter":"datum.p=='R'&&datum.s=='RV'&&datum.d>=5"}],"mark":{"type":"area","color":"#ff0000","opacity":0.27},"encoding":{"y2":{"datum":0}}},
   {"transform":[{"filter":"datum.p=='F'&&datum.d>=5"}],"mark":{"type":"area","color":"#6189c9","opacity":0.5},"encoding":{"y2":{"datum":0}}},
   {"transform":[{"filter":"datum.p=='F'||datum.p=='R'"}],"mark":{"type":"line","strokeWidth":1},"encoding":{"color":{"field":"s","type":"nominal","legend":null},"strokeDash":{"field":"s","type":"nominal","legend":null}}},
   {"transform":[{"filter":"datum.p=='F'||datum.p=='R'"}],"mark":{"type":"point","filled":true,"opacity":1,"size":115,"strokeWidth":1},"encoding":{"shape":{"field":"s","type":"nominal","legend":null},"fill":{"field":"s","type":"nominal","legend":null},"stroke":{"condition":{"test":"datum.s=='L. salivarius PS2'","value":"#6f8296"},"value":"#000000"}}},
   {"transform":[{"filter":"datum.p=='R'&&datum.s=='REF'&&datum.d==4"}],"mark":{"type":"text","text":"F","fontSize":33,"align":"left","baseline":"alphabetic","color":"#000000"},"encoding":{"x":{"datum":3.6,"axis":{"values":[3,4,5,6,7,8,9,10,11,12,13,14],"format":"d","title":null,"labelFlush":false,"labelOverlap":false}},"y":{"datum":69.5}}},
   {"transform":[{"filter":"datum.p=='R'&&datum.s=='REF'&&datum.d==4"}],"mark":{"type":"text","text":"AUC: 169.03","fontSize":19,"align":"left","baseline":"middle","color":"#ff0000"},"encoding":{"x":{"datum":9.8,"axis":{"values":[3,4,5,6,7,8,9,10,11,12,13,14],"format":"d","title":null,"labelFlush":false,"labelOverlap":false}},"y":{"datum":46.5}}},
   {"transform":[{"filter":"datum.p=='R'&&datum.s=='REF'&&datum.d==4"}],"mark":{"type":"text","text":"AUC: 131.82","fontSize":19,"align":"left","baseline":"middle","color":"#1e7fc6"},"encoding":{"x":{"datum":9.8,"axis":{"values":[3,4,5,6,7,8,9,10,11,12,13,14],"format":"d","title":null,"labelFlush":false,"labelOverlap":false}},"y":{"datum":37.2}}},
   {"transform":[{"filter":"datum.p=='R'&&datum.s=='REF'&&datum.d==4"}],"mark":{"type":"text","text":"#","fontSize":20,"baseline":"middle","color":"#2aa1b5"},"encoding":{"x":{"datum":8,"axis":{"values":[3,4,5,6,7,8,9,10,11,12,13,14],"format":"d","title":null,"labelFlush":false,"labelOverlap":false}},"y":{"datum":32.9}}}
  ]},
  {"data":{"name":"lg"},"transform":[{"filter":"datum.p=='F'||datum.p=='R'"}],"encoding":{"y":{"field":"r","type":"quantitative","scale":{"domain":[0.45,13.45],"reverse":true,"nice":false,"zero":false},"axis":null}},"layer":[
   {"mark":{"type":"rule","strokeWidth":1},"encoding":{"x":{"datum":8.38,"axis":{"values":[3,4,5,6,7,8,9,10,11,12,13,14],"format":"d","title":null,"labelFlush":false,"labelOverlap":false}},"x2":{"datum":9.16},"color":{"field":"s","type":"nominal","legend":null},"strokeDash":{"field":"s","type":"nominal","legend":null}}},
   {"mark":{"type":"point","filled":true,"opacity":1,"size":85,"strokeWidth":1},"encoding":{"x":{"datum":8.77,"axis":{"values":[3,4,5,6,7,8,9,10,11,12,13,14],"format":"d","title":null,"labelFlush":false,"labelOverlap":false}},"shape":{"field":"s","type":"nominal","legend":null},"fill":{"field":"s","type":"nominal","legend":null},"stroke":{"condition":{"test":"datum.s=='L. salivarius PS2'","value":"#6f8296"},"value":"#000000"}}},
   {"transform":[{"filter":"datum.r<3"}],"mark":{"type":"text","align":"left","baseline":"middle","fontSize":11,"color":"#222222"},"encoding":{"x":{"datum":9.62,"axis":{"values":[3,4,5,6,7,8,9,10,11,12,13,14],"format":"d","title":null,"labelFlush":false,"labelOverlap":false}},"text":{"field":"t"}}},
   {"transform":[{"filter":"datum.r==3"}],"mark":{"type":"text","align":"left","baseline":"middle","fontSize":11,"fontStyle":"italic","color":"#222222"},"encoding":{"x":{"datum":9.62,"axis":{"values":[3,4,5,6,7,8,9,10,11,12,13,14],"format":"d","title":null,"labelFlush":false,"labelOverlap":false}},"text":{"field":"t"}}},
   {"transform":[{"filter":"datum.r==3"}],"mark":{"type":"text","align":"left","baseline":"middle","fontSize":11,"color":"#222222"},"encoding":{"x":{"datum":12.22,"axis":{"values":[3,4,5,6,7,8,9,10,11,12,13,14],"format":"d","title":null,"labelFlush":false,"labelOverlap":false}},"text":{"field":"st"}}}
  ]}
 ]},
 {"width":308,"height":207,"resolve":{"scale":{"y":"independent"}},"layer":[
  {"data":{"name":"m"},"encoding":{"x":{"field":"d","type":"quantitative","scale":{"domain":[3,14],"nice":false,"zero":false},"axis":{"values":[3,4,5,6,7,8,9,10,11,12,13,14],"format":"d","title":null,"labelFlush":false,"labelOverlap":false}},"y":{"field":"v","type":"quantitative","scale":{"domain":[0,80],"nice":false},"axis":{"values":[0,20,40,60,80],"format":"d","title":null,"labelOverlap":false}}},
   "layer":[
   {"transform":[{"filter":"datum.p=='R'&&datum.s=='RV'&&datum.d>=5"}],"mark":{"type":"area","color":"#ff0000","opacity":0.27},"encoding":{"y2":{"datum":0}}},
   {"transform":[{"filter":"datum.p=='H'&&datum.d>=5"}],"mark":{"type":"area","color":"#71a1d5","opacity":0.5},"encoding":{"y2":{"datum":0}}},
   {"transform":[{"filter":"datum.p=='H'||datum.p=='R'"}],"mark":{"type":"line","strokeWidth":1},"encoding":{"color":{"field":"s","type":"nominal","legend":null},"strokeDash":{"field":"s","type":"nominal","legend":null}}},
   {"transform":[{"filter":"datum.p=='H'||datum.p=='R'"}],"mark":{"type":"point","filled":true,"opacity":1,"size":115,"strokeWidth":1},"encoding":{"shape":{"field":"s","type":"nominal","legend":null},"fill":{"field":"s","type":"nominal","legend":null},"stroke":{"condition":{"test":"datum.s=='L. salivarius PS2'","value":"#6f8296"},"value":"#000000"}}},
   {"transform":[{"filter":"datum.p=='R'&&datum.s=='REF'&&datum.d==4"}],"mark":{"type":"text","text":"H","fontSize":33,"align":"left","baseline":"alphabetic","color":"#000000"},"encoding":{"x":{"datum":3.6,"axis":{"values":[3,4,5,6,7,8,9,10,11,12,13,14],"format":"d","title":null,"labelFlush":false,"labelOverlap":false}},"y":{"datum":70}}},
   {"transform":[{"filter":"datum.p=='R'&&datum.s=='REF'&&datum.d==4"}],"mark":{"type":"text","text":"AUC: 169.03","fontSize":19,"align":"left","baseline":"middle","color":"#ff0000"},"encoding":{"x":{"datum":9.69,"axis":{"values":[3,4,5,6,7,8,9,10,11,12,13,14],"format":"d","title":null,"labelFlush":false,"labelOverlap":false}},"y":{"datum":51.7}}},
   {"transform":[{"filter":"datum.p=='R'&&datum.s=='REF'&&datum.d==4"}],"mark":{"type":"text","text":"AUC: 152.38","fontSize":19,"align":"left","baseline":"middle","color":"#a9c9ea"},"encoding":{"x":{"datum":9.69,"axis":{"values":[3,4,5,6,7,8,9,10,11,12,13,14],"format":"d","title":null,"labelFlush":false,"labelOverlap":false}},"y":{"datum":42.3}}}
  ]},
  {"data":{"name":"lg"},"transform":[{"filter":"datum.p=='H'||datum.p=='R'"}],"encoding":{"y":{"field":"r","type":"quantitative","scale":{"domain":[0.45,13.45],"reverse":true,"nice":false,"zero":false},"axis":null}},"layer":[
   {"mark":{"type":"rule","strokeWidth":1},"encoding":{"x":{"datum":8.8,"axis":{"values":[3,4,5,6,7,8,9,10,11,12,13,14],"format":"d","title":null,"labelFlush":false,"labelOverlap":false}},"x2":{"datum":9.58},"color":{"field":"s","type":"nominal","legend":null},"strokeDash":{"field":"s","type":"nominal","legend":null}}},
   {"mark":{"type":"point","filled":true,"opacity":1,"size":85,"strokeWidth":1},"encoding":{"x":{"datum":9.19,"axis":{"values":[3,4,5,6,7,8,9,10,11,12,13,14],"format":"d","title":null,"labelFlush":false,"labelOverlap":false}},"shape":{"field":"s","type":"nominal","legend":null},"fill":{"field":"s","type":"nominal","legend":null},"stroke":{"condition":{"test":"datum.s=='L. salivarius PS2'","value":"#6f8296"},"value":"#000000"}}},
   {"transform":[{"filter":"datum.r<3"}],"mark":{"type":"text","align":"left","baseline":"middle","fontSize":11,"color":"#222222"},"encoding":{"x":{"datum":10.0,"axis":{"values":[3,4,5,6,7,8,9,10,11,12,13,14],"format":"d","title":null,"labelFlush":false,"labelOverlap":false}},"text":{"field":"t"}}},
   {"transform":[{"filter":"datum.r==3"}],"mark":{"type":"text","align":"left","baseline":"middle","fontSize":11,"fontStyle":"italic","color":"#222222"},"encoding":{"x":{"datum":10.0,"axis":{"values":[3,4,5,6,7,8,9,10,11,12,13,14],"format":"d","title":null,"labelFlush":false,"labelOverlap":false}},"text":{"field":"t"}}},
   {"transform":[{"filter":"datum.r==3"}],"mark":{"type":"text","align":"left","baseline":"middle","fontSize":11,"color":"#222222"},"encoding":{"x":{"datum":12.58,"axis":{"values":[3,4,5,6,7,8,9,10,11,12,13,14],"format":"d","title":null,"labelFlush":false,"labelOverlap":false}},"text":{"field":"st"}}}
  ]}
 ]}
 ]}
]},
{"width":795,"height":30,"data":{"values":[{}]},
 "encoding":{"y":{"datum":0.5,"type":"quantitative","scale":{"domain":[0,1]},"axis":null}},
 "layer":[
  {"mark":{"type":"rule","strokeWidth":1.5,"color":"#000000"},"encoding":{"x":{"datum":0.079,"type":"quantitative","scale":{"domain":[0,1]},"axis":null},"x2":{"datum":0.182}}},
  {"mark":{"type":"rule","strokeWidth":1.5,"color":"#000000"},"encoding":{"x":{"datum":0.374,"type":"quantitative","scale":{"domain":[0,1]},"axis":null},"x2":{"datum":0.985}}},
  {"mark":{"type":"point","shape":"triangle-right","filled":true,"color":"#000000","opacity":1,"size":70},"encoding":{"x":{"datum":0.991,"type":"quantitative","scale":{"domain":[0,1]},"axis":null}}},
  {"mark":{"type":"text","text":"Age (days)","fontWeight":"bold","fontSize":23,"align":"center","baseline":"middle","color":"#000000"},"encoding":{"x":{"datum":0.278,"type":"quantitative","scale":{"domain":[0,1]},"axis":null}}}
 ]}
]
}
